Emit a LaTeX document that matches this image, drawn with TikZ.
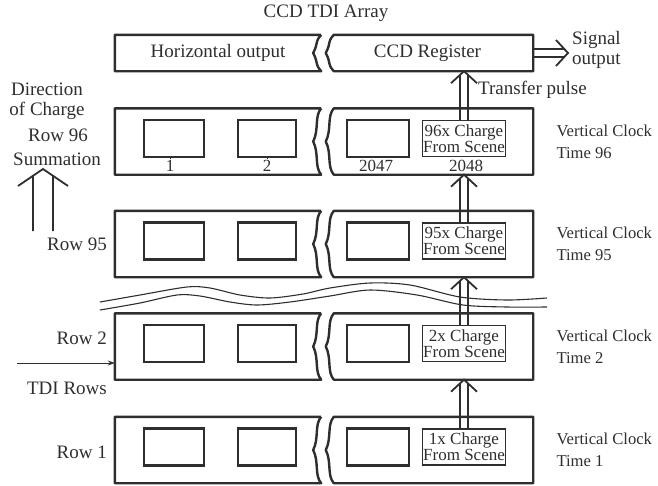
\documentclass[tikz,border=0pt]{standalone}
\usepackage{fontspec}
\setmainfont{Liberation Serif}
\usepackage{tikz}
\usetikzlibrary{arrows.meta,positioning,calc}
\definecolor{tdiInk}{HTML}{2E2E2E}

\begin{document}
\begin{tikzpicture}[x=1pt,y=-1pt,font=\fontsize{19}{20}\selectfont,color=tdiInk,
  part/.style={inner sep=0pt,minimum height=66pt},
  frame/.style={draw=tdiInk,line width=2.4pt,line join=round},
  curl/.style={to path={.. controls +(-7,-8) and +(6,12) ..
      ([xshift=-8pt]$(\tikztostart)!0.5!(\tikztotarget)$)
      .. controls +(6,-12) and +(-7,8) .. (\tikztotarget)}},
  cell/.style={draw=tdiInk,line width=2.4pt,minimum height=37pt,inner sep=0pt},
  charge/.style={draw=tdiInk,line width=1.1pt,minimum width=82pt,minimum height=36pt,
                 inner sep=0.5pt,align=center,font=\fontsize{17}{16}\selectfont},
  num/.style={inner sep=1pt,font=\fontsize{17}{16}\selectfont},
  clock/.style={anchor=west,align=left,font=\fontsize{16.6}{22}\selectfont},
  rowlab/.style={anchor=east,inner sep=1pt},
  wave/.style={draw=tdiInk,line width=1.1pt},
  % open double arrow: half gap, head length, head half width, shaft stop
  twin/.style n args={4}{draw=tdiInk,line width=1.8pt,line join=miter,to path={
      ($(\tikztotarget)!#2!(\tikztostart)$) coordinate (hb)
      ($(\tikztotarget)!#4!(\tikztostart)$) coordinate (hm)
      ($(\tikztostart)!#1!90:(\tikztotarget)$) -- ($(hm)!#1!90:(\tikztotarget)$)
      ($(\tikztostart)!#1!-90:(\tikztotarget)$) -- ($(hm)!#1!-90:(\tikztotarget)$)
      ($(hb)!#3!90:(\tikztotarget)$) -- (\tikztotarget) -- ($(hb)!#3!-90:(\tikztotarget)$)}},
  dbl/.style={twin={4pt}{12pt}{13pt}{3.7pt}},
  bigdbl/.style={twin={10pt}{17pt}{25pt}{6.8pt}}]
  \useasboundingbox (0,0) rectangle (658,485);

  % register at the top
  \node (title) at (326,13) {CCD TDI Array};
  \node[part,minimum width=206pt,minimum height=36pt] (reg-L) at (218,53) {Horizontal output};
  \node[part,minimum width=199pt,minimum height=36pt] (reg-R) at (433.5,53) {\hspace*{-12pt}CCD Register};
  \draw[frame] (reg-L.north east) -- (reg-L.north west) -- (reg-L.south west)
    -- (reg-L.south east) to[curl] (reg-L.north east);
  \draw[frame] (reg-R.south west) to[curl] (reg-R.north west) -- (reg-R.north east)
    -- (reg-R.south east) -- cycle;
  \node[anchor=west,align=center,inner sep=4pt] (sig) at (568,50) {Signal\\output};
  \node[anchor=west,inner sep=1pt] (pulse) at (477,90) {Transfer pulse};

  % break lines between row 95 and row 2
  \draw[wave] plot[smooth] coordinates {(100,302) (140,295) (187,287) (210,288) (240,295)
    (270,298) (303,294) (330,288) (370,283) (410,285) (460,297) (507,300) (547,298)};
  \draw[wave] plot[smooth] coordinates {(100,310) (140,303) (177,295) (200,296) (230,302)
    (257,305) (290,302) (330,296) (370,290) (417,295) (463,305) (507,307) (547,307)};

  % TDI rows
  \foreach \n/\yc/\k in {r96/141.5/96, r95/244/95, r2/346.5/2, r1/450/1} {
    \node[part,minimum width=206pt] (\n-L) at (218,\yc) {};
    \node[part,minimum width=199pt] (\n-R) at (433.5,\yc) {};
    \draw[frame] (\n-L.north east) -- (\n-L.north west) -- (\n-L.south west)
      -- (\n-L.south east) to[curl] (\n-L.north east);
    \draw[frame] (\n-R.south west) to[curl] (\n-R.north west) -- (\n-R.north east)
      -- (\n-R.south east) -- cycle;
    \node[cell,minimum width=60pt] (\n-a) at (174,\yc-3) {};
    \node[cell,minimum width=58pt] (\n-b) at (267,\yc-3) {};
    \node[cell,minimum width=62pt] (\n-c) at (378,\yc-3) {};
    \node[charge] (\n-d) at (464,\yc-3) {\k x Charge\\From Scene};
    \node[clock] (\n-t) at (553,\yc) {Vertical Clock\\Time \k};
  }

  % pixel numbers of row 96
  \node[num] (n1) at (170,166) {1};
  \node[num] (n2) at (267,166) {2};
  \node[num] (n2047) at (376,166) {2047};
  \node[num] (n2048) at (466,166) {2048};
  \draw[line width=1pt] (n1.north |- r96-a.south) -- (n1.north);
  \draw[line width=1pt] (n2.north |- r96-b.south) -- (n2.north);

  % left side labels
  \node[align=center,inner sep=1pt] (dir) at (47,101) {Direction\\of Charge};
  \node[rowlab] (row96) at (89,135) {Row 96};
  \node[inner sep=1pt] (summ) at (57,159) {Summation};
  \node[rowlab] (row95) at (108,244) {Row 95};
  \node[rowlab] (row2) at (108,338) {Row 2};
  \node[rowlab] (tdi) at (108,388) {TDI Rows};
  \node[rowlab] (row1) at (108,452) {Row 1};
  \coordinate (sumfoot) at (43,231);
  \coordinate (sumtip) at (43,169);
  \coordinate (rowin) at (17,363);

  % charge transfer
  \draw[bigdbl] (sumfoot) to (sumtip);
  \draw[line width=1pt,-{Stealth[length=7pt,width=5pt]}] (rowin) -- (rowin -| r2-L.west);
  \draw[dbl] (r1-d.north) to (r1-d.north |- r2-R.south);
  \draw[dbl] (r2-d.north) to (r2-d.north |- r95-R.south);
  \draw[dbl] (r95-d.north) to (r95-d.north |- r96-R.south);
  \draw[dbl] (r96-d.north) to (r96-d.north |- reg-R.south);
  \draw[dbl] (reg-R.east) to (sig.west |- reg-R.east);
\end{tikzpicture}
\end{document}
